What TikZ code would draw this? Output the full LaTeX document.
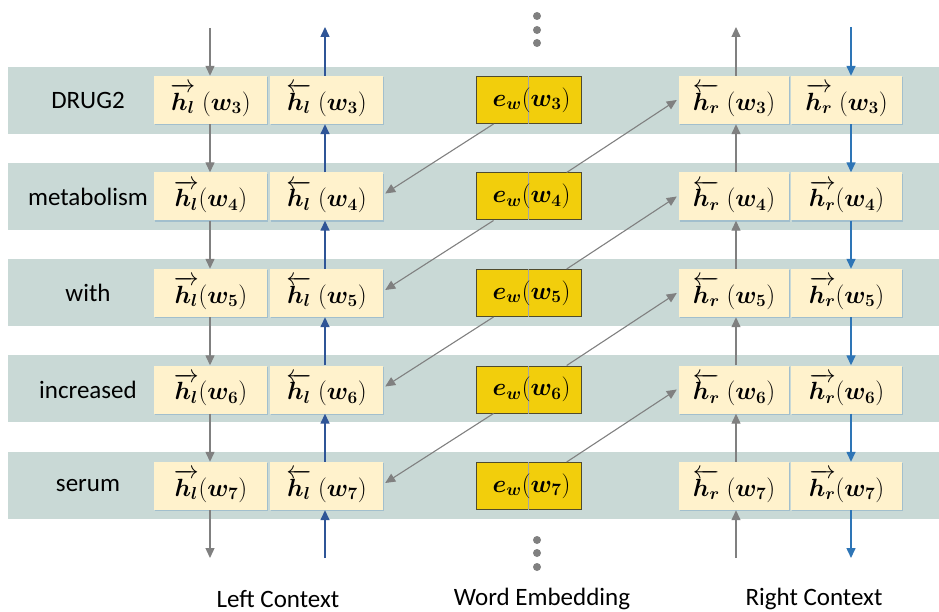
\documentclass[tikz,border=0pt]{standalone}
\usepackage{amsmath,bm}
\usepackage{fontspec}
\setmainfont{Carlito}
\usetikzlibrary{arrows.meta,calc,shadows}
\definecolor{bandc}{RGB}{201,217,214}
\definecolor{boxc}{RGB}{255,242,204}
\definecolor{embc}{RGB}{242,206,12}
\definecolor{embd}{RGB}{80,75,45}
\definecolor{arrg}{RGB}{128,128,128}
\definecolor{blueL}{RGB}{47,85,151}
\definecolor{blueR}{RGB}{46,117,182}
\begin{document}
\begin{tikzpicture}[x=1pt,y=-1pt,
  band/.style={fill=bandc,draw=none,minimum width=931pt,minimum height=67pt,inner sep=0pt,anchor=west},
  hbox/.style={fill=boxc,draw=none,minimum height=48pt,inner sep=0pt,font=\fontsize{25}{28}\selectfont,
    drop shadow={shadow xshift=1.2pt,shadow yshift=-1.2pt,opacity=0.25,fill=blueR}},
  ebox/.style={fill=embc,draw=embd,line width=1pt,minimum height=47pt,minimum width=105pt,inner sep=0pt},
  etext/.style={inner sep=0pt,font=\fontsize{25}{28}\selectfont},
  rowlab/.style={font=\fontsize{25}{28}\selectfont,inner sep=0pt},
  botlab/.style={font=\fontsize{25}{28}\selectfont,inner sep=0pt},
  garr/.style={draw=arrg,line width=1.3pt,-{Triangle[length=10pt,width=9pt]}},
  larr/.style={draw=blueL,line width=1.5pt,-{Triangle[length=10pt,width=9pt]}},
  rarr/.style={draw=blueR,line width=1.5pt,-{Triangle[length=10pt,width=9pt]}},
  darr/.style={draw=arrg,line width=1.1pt,-{Triangle[length=10pt,width=9pt]}},
  dotc/.style={fill=arrg,draw=none,circle,minimum size=8pt,inner sep=0pt}
]
\useasboundingbox (0,0) rectangle (939,612);
% bands
\foreach \i/\y in {3/101,4/196.5,5/292.5,6/388.5,7/485.5}{
  \node[band] (band\i) at (8,\y) {};
}
% row labels
\node[rowlab] (lab3) at (88,100) {DRUG2};
\node[rowlab] (lab4) at (88,196.5) {metabolism};
\node[rowlab] (lab5) at (88,293) {with};
\node[rowlab] (lab6) at (88,389.5) {increased};
\node[rowlab] (lab7) at (88,486) {serum};
% boxes
\foreach \i/\y in {3/100,4/196.5,5/293,6/389.5,7/486}{
  \node[hbox,minimum width=113pt] (lf\i) at (210.5,\y)
    {$\overrightarrow{\bm{h}_{\bm{l}}}\ifnum\i=3 \;\fi(\bm{w}_{\bm{\i}})$};
  \node[hbox,minimum width=113pt] (lb\i) at (326.5,\y)
    {$\overleftarrow{\bm{h}_{\bm{l}}}\;(\bm{w}_{\bm{\i}})$};
  \node[ebox] (e\i) at (528.5,\y) {};
  \draw[draw=arrg!70,line width=0.6pt] (e\i.north) -- (e\i.south);
  \node[etext] (et\i) at ($(e\i.center)+(3,0)$)
    {$\bm{e}_{\bm{w}}(\bm{w}_{\bm{\i}})$};
  \node[hbox,minimum width=110pt] (rb\i) at (734,\y)
    {$\overleftarrow{\bm{h}_{\bm{r}}}\;(\bm{w}_{\bm{\i}})$};
  \node[hbox,minimum width=111pt] (rf\i) at (846.5,\y)
    {$\overrightarrow{\bm{h}_{\bm{r}}}\ifnum\i=3 \;\fi(\bm{w}_{\bm{\i}})$};
}
% top and bottom free ends
\coordinate (tlf) at (210,28);
\coordinate (tlb) at (325,27);
\coordinate (trb) at (736,27);
\coordinate (trf) at (851,27);
\coordinate (blf) at (210,558);
\coordinate (blb) at (325,558);
\coordinate (brb) at (736,558);
\coordinate (brf) at (851,558);
% vertical chains
\draw[garr] (tlf) -- (tlf |- lf3.north);
\draw[larr] (tlb |- lb3.north) -- (tlb);
\draw[garr] (trb |- rb3.north) -- (trb);
\draw[rarr] (trf) -- (trf |- rf3.north);
\foreach \a/\b in {3/4,4/5,5/6,6/7}{
  \draw[garr] (tlf |- lf\a.south) -- (tlf |- lf\b.north);
  \draw[larr] (tlb |- lb\b.north) -- (tlb |- lb\a.south);
  \draw[garr] (trb |- rb\b.north) -- (trb |- rb\a.south);
  \draw[rarr] (trf |- rf\a.south) -- (trf |- rf\b.north);
}
\draw[garr] (tlf |- lf7.south) -- (blf);
\draw[larr] (blb) -- (tlb |- lb7.south);
\draw[garr] (brb) -- (trb |- rb7.south);
\draw[rarr] (trf |- rf7.south) -- (brf);
% diagonal connections
\foreach \a/\b in {3/4,4/5,5/6,6/7}{
  \draw[darr] ($(e\a.south west)!0.17!(e\a.south east)$) -- ($(lb\b.east)+(2,-3)$);
  \draw[darr] ($(e\b.north west)!0.86!(e\b.north east)$) -- ($(rb\a.west)+(-2,0)$);
}
% dots
\node[dotc] (d1) at (537,16) {};
\node[dotc] (d2) at (537,30) {};
\node[dotc] (d3) at (537,43) {};
\node[dotc] (d4) at (537,540) {};
\node[dotc] (d5) at (537,553) {};
\node[dotc] (d6) at (537,567) {};
% bottom labels
\node[botlab] (llc) at (278,599) {Left Context};
\node[botlab] (lwe) at (542,599) {Word Embedding};
\node[botlab] (lrc) at (814,599) {Right Context};
\end{tikzpicture}
\end{document}
